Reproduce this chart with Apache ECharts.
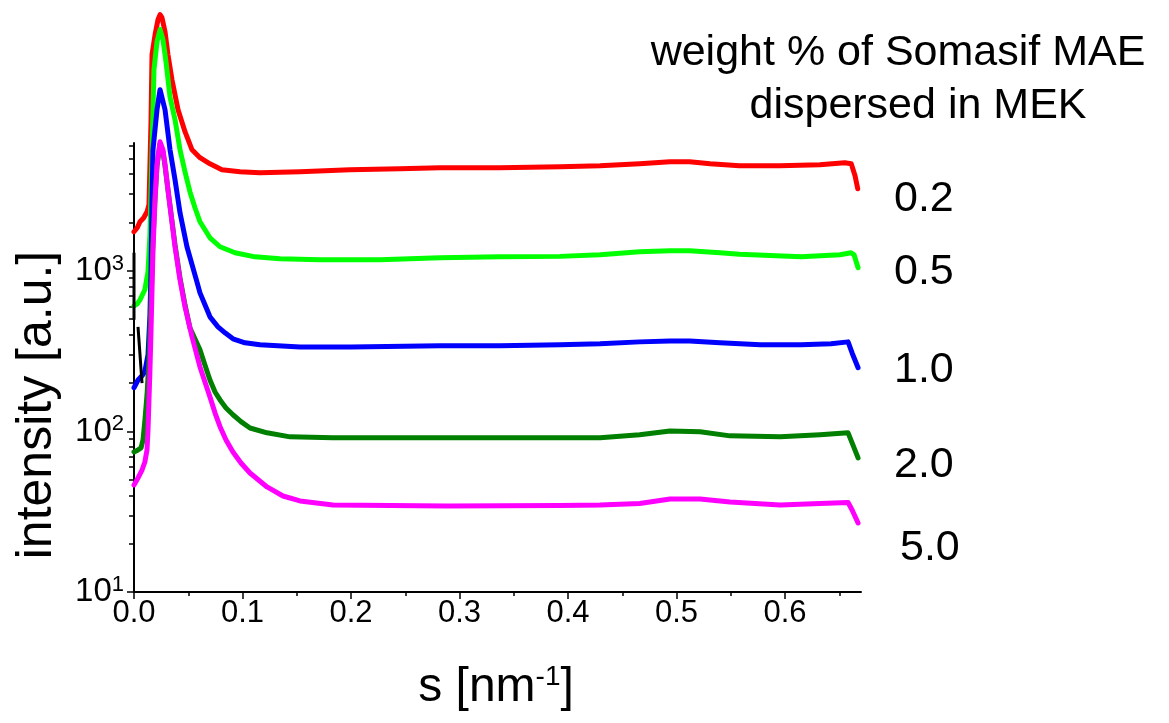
<!DOCTYPE html>
<html><head><meta charset="utf-8">
<script src="https://cdn.jsdelivr.net/npm/echarts@6/dist/echarts.min.js"></script>
<style>html,body{margin:0;padding:0;background:#fff}#c{width:1169px;height:723px}</style>
</head><body><div id="c"></div>
<script>
// ---- data ----
const sRed = [0.000,0.003,0.0055,0.009,0.012,0.0138,0.0157,0.0166,0.0194,0.0221,0.024,0.0258,0.0286,0.0313,0.035,0.0406,0.047,0.0535,0.0608,0.070,0.081,0.0977,0.116,0.153,0.199,0.245,0.282,0.337,0.393,0.4295,0.466,0.494,0.512,0.531,0.558,0.595,0.632,0.655,0.661,0.6645,0.667];
const vRed = [1750,1855,2020,2140,2330,2580,8700,22200,29500,36600,39400,37700,30800,22200,15500,10070,7350,5670,5060,4640,4260,4140,4080,4140,4260,4320,4380,4380,4450,4510,4640,4780,4780,4640,4510,4510,4575,4710,4640,3910,3245];

const sLime = [0.000,0.003,0.0055,0.010,0.0129,0.0147,0.0166,0.0184,0.0212,0.024,0.0267,0.0295,0.0332,0.0378,0.0424,0.047,0.0516,0.0562,0.0608,0.070,0.0793,0.0931,0.1115,0.1346,0.1714,0.2267,0.282,0.3373,0.3926,0.4295,0.466,0.494,0.512,0.540,0.558,0.6147,0.6507,0.6608,0.6636,0.6673];
const vLime = [605,623,660,762,985,1675,5670,17900,26700,31800,27500,20000,12100,8730,5670,4140,3100,2470,2020,1606,1412,1295,1222,1188,1171,1171,1205,1222,1230,1258,1313,1333,1333,1295,1270,1222,1258,1295,1258,1044];

const sBlue = [0.000,0.0037,0.0074,0.010,0.0129,0.0147,0.0157,0.0166,0.0175,0.0212,0.024,0.0286,0.0332,0.0378,0.0406,0.0424,0.0488,0.058,0.0608,0.0654,0.070,0.0774,0.0839,0.0912,0.1023,0.1161,0.153,0.200,0.282,0.3373,0.3926,0.4295,0.466,0.494,0.512,0.540,0.5772,0.6147,0.6424,0.6581,0.6618,0.6673];
const vBlue = [187,209,222,235,300,532,1015,2770,5670,10070,13430,10070,5670,3690,2770,2297,1412,853,729,614,517,448,411,377,356,346,336,336,341,341,346,351,361,366,366,356,346,346,351,361,308,249];

const sDkGreen = [0.000,0.0037,0.0065,0.0083,0.0101,0.012,0.0138,0.0157,0.0175,0.0194,0.0212,0.024,0.0267,0.0286,0.0313,0.0378,0.0424,0.047,0.0516,0.0608,0.0654,0.070,0.0747,0.0793,0.0848,0.0912,0.0986,0.1069,0.1226,0.1438,0.1833,0.2884,0.3926,0.4295,0.466,0.494,0.5217,0.5493,0.5955,0.6323,0.6581,0.6618,0.6673];
const vDkGreen = [74.5,76.7,78.9,88.5,118,169,279,660,1560,2900,4500,6200,5500,4500,3200,1452,904,614,441,322,259,209,176,157,140,127,115,105,98,92.5,91.2,91.2,91.2,91.2,95.2,100.7,99.4,93.8,92.5,95.2,98,84.8,68.4];

const sMagenta = [0.000,0.0037,0.0074,0.010,0.012,0.0129,0.0138,0.0147,0.0157,0.0166,0.0175,0.0194,0.0212,0.024,0.0267,0.0286,0.0313,0.0378,0.0424,0.047,0.0535,0.0608,0.0654,0.070,0.0747,0.0793,0.0848,0.0912,0.0986,0.1069,0.1226,0.1373,0.153,0.1834,0.2885,0.3926,0.4295,0.466,0.494,0.5217,0.5493,0.5955,0.6323,0.6581,0.6618,0.6673];
const vMagenta = [46.4,51.3,57.5,64.5,76.7,102,157,242,429,762,1352,2770,4570,6360,5670,4570,3200,1412,879,597,388,252,203,164,130,107,88.5,74.5,63.6,55.1,45.1,39.6,36.9,34.8,34.3,34.6,34.8,35.6,37.9,37.9,36.4,34.8,35.6,36.1,32.4,26.9];

// short black trace at the start
const sBlack = [0.000,0.000,0.002,0.0037,0.0074];
const vBlack = [1295,495,'-',448,200];

const seriesNames = ['0.2','0.5','1.0','2.0','5.0'];
const xMajorTicks = [0,0.1,0.2,0.3,0.4,0.5,0.6];
const xMinorTicks = [0.05,0.15,0.25,0.35,0.45,0.55,0.65];
const yMajorTicks = [10,100,1000];
const yMinorTicks = [20,30,40,50,60,70,80,90,200,300,400,500,600,700,800,900,2000,3000,4000,5000,6000];

// ---- chart ----
const FONT = 'Liberation Sans';
const zip = (s, v) => s.map((x, i) => [x, v[i]]);
const mk = (name, s, v, color) => ({
  name, type: 'line', data: zip(s, v), showSymbol: false, symbol: 'none',
  clip: false, smooth: false, xAxisIndex: 0, yAxisIndex: 0,
  lineStyle: { color, width: 5, join: 'round', cap: 'round' }, itemStyle: { color },
  animation: false
});

const chart = echarts.init(document.getElementById('c'), null, { renderer: 'canvas' });
const grid = { left: 134, right: 308, top: 143, bottom: 131, containLabel: false, outerBoundsMode: 'none' };
const option = {
  backgroundColor: '#ffffff',
  animation: false,
  textStyle: { fontFamily: FONT },
  grid,
  xAxis: [{
    type: 'value', min: 0, max: 0.67, position: 'bottom',
    axisLine: { show: true, lineStyle: { color: '#000', width: 2 } },
    axisTick: { show: true, length: 7, lineStyle: { color: '#000', width: 1.5 }, customValues: xMajorTicks },
    axisLabel: { show: true, customValues: xMajorTicks, formatter: v => v.toFixed(1), color: '#000', fontSize: 31, fontFamily: FONT, margin: 6 },
    splitLine: { show: false }
  }, {
    type: 'value', min: 0, max: 0.67, position: 'bottom', gridIndex: 0,
    axisLine: { show: false },
    axisTick: { show: true, length: 4, lineStyle: { color: '#000', width: 1.5 }, customValues: xMinorTicks },
    axisLabel: { show: false }, splitLine: { show: false }
  }],
  yAxis: [{
    type: 'log', logBase: 10, min: 10, max: 6250, position: 'left',
    axisLine: { show: true, lineStyle: { color: '#000', width: 2 } },
    axisTick: { show: true, length: 7, lineStyle: { color: '#000', width: 1.5 }, customValues: yMajorTicks },
    axisLabel: {
      show: true, customValues: yMajorTicks, margin: 10, fontSize: 33, fontFamily: FONT, color: '#000',
      formatter: v => '{b|10}{s|' + Math.round(Math.log10(v)) + '}',
      rich: {
        b: { fontSize: 33, fontFamily: FONT, color: '#000', lineHeight: 36 },
        s: { fontSize: 22, fontFamily: FONT, color: '#000', verticalAlign: 'top', lineHeight: 36 }
      }
    },
    splitLine: { show: false }
  }, {
    type: 'log', logBase: 10, min: 10, max: 6250, position: 'left', gridIndex: 0,
    axisLine: { show: false },
    axisTick: { show: true, length: 5, lineStyle: { color: '#000', width: 1.5 }, customValues: yMinorTicks },
    axisLabel: { show: false }, splitLine: { show: false }
  }],
  series: [
    mk(seriesNames[0], sRed, vRed, '#ff0000'),
    mk(seriesNames[1], sLime, vLime, '#00ff00'),
    mk(seriesNames[2], sBlue, vBlue, '#0000ff'),
    mk(seriesNames[3], sDkGreen, vDkGreen, '#007f00'),
    mk(seriesNames[4], sMagenta, vMagenta, '#ff00ff'),
    Object.assign(mk('', sBlack, vBlack, '#000000'), { lineStyle: { color: '#000', width: 3 } })
  ],
  graphic: [
    { type: 'text', silent: true,
      style: { text: 'weight % of Somasif MAE', x: 898, y: 53, align: 'center', verticalAlign: 'middle', fontSize: 43, fontFamily: FONT, fill: '#000' } },
    { type: 'text', silent: true,
      style: { text: 'dispersed in MEK', x: 918, y: 106, align: 'center', verticalAlign: 'middle', fontSize: 43, fontFamily: FONT, fill: '#000' } },
    { type: 'text', silent: true, style: { text: seriesNames[0], x: 894, y: 199, verticalAlign: 'middle', fontSize: 43, fontFamily: FONT, fill: '#000' } },
    { type: 'text', silent: true, style: { text: seriesNames[1], x: 894, y: 272, verticalAlign: 'middle', fontSize: 43, fontFamily: FONT, fill: '#000' } },
    { type: 'text', silent: true, style: { text: seriesNames[2], x: 894, y: 370, verticalAlign: 'middle', fontSize: 43, fontFamily: FONT, fill: '#000' } },
    { type: 'text', silent: true, style: { text: seriesNames[3], x: 894, y: 465, verticalAlign: 'middle', fontSize: 43, fontFamily: FONT, fill: '#000' } },
    { type: 'text', silent: true, style: { text: seriesNames[4], x: 900, y: 548, verticalAlign: 'middle', fontSize: 43, fontFamily: FONT, fill: '#000' } },
    { type: 'text', silent: true, x: 37, y: 405, rotation: Math.PI / 2,
      style: { text: 'intensity [a.u.]', x: 0, y: 0, align: 'center', verticalAlign: 'middle', fontSize: 50, fontFamily: FONT, fill: '#000' } },
    { type: 'text', silent: true,
      style: { text: '{n|s [nm}{s|-1}{n|]}', x: 496, y: 688, align: 'center', verticalAlign: 'middle',
        rich: { n: { fontSize: 48, fontFamily: FONT, fill: '#000', color: '#000', lineHeight: 50 },
                s: { fontSize: 28, fontFamily: FONT, fill: '#000', color: '#000', verticalAlign: 'top', lineHeight: 50 } } } }
  ]
};
chart.setOption(option);
</script></body></html>
